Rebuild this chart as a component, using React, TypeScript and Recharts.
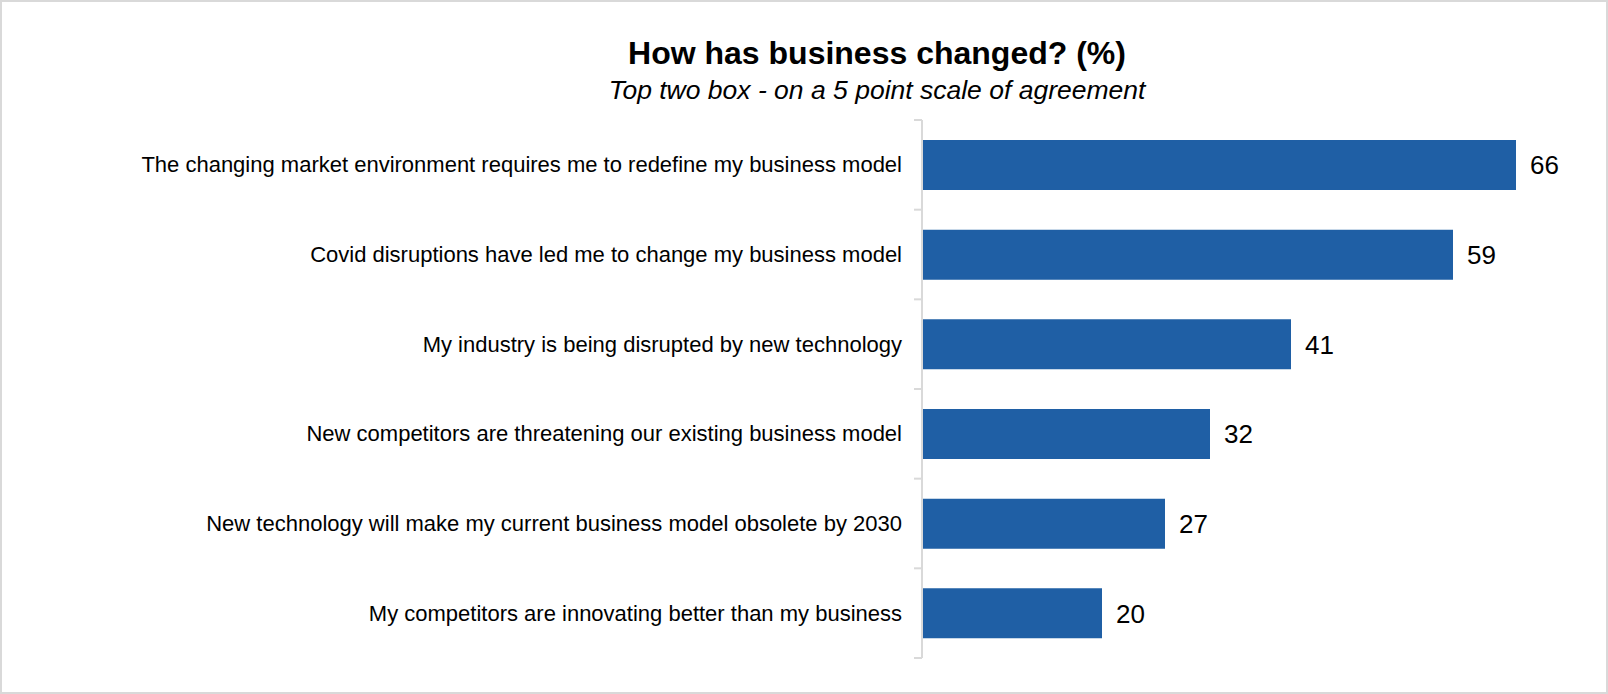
import React from "react";
import { BarChart, Bar, XAxis, YAxis, LabelList } from "recharts";

const categories = [
  "The changing market environment requires me to redefine my business model",
  "Covid disruptions have led me to change my business model",
  "My industry is being disrupted by new technology",
  "New competitors are threatening our existing business model",
  "New technology will make my current business model obsolete by 2030",
  "My competitors are innovating better than my business",
];
const values = [66, 59, 41, 32, 27, 20];

const data = categories.map((name, i) => ({ name, value: values[i] }));

const W = 1608;
const H = 694;
const TOP = 120;
const BOTTOM = 36;
const PLOT_H = H - TOP - BOTTOM;
const BAND = PLOT_H / categories.length;
const FONT = '"Liberation Sans", Arial, sans-serif';

function CategoryTick(props: any) {
  const { x, y, payload, index } = props;
  const last = index === categories.length - 1;
  return (
    <g>
      <text x={x - 20} y={y} textAnchor="end" dominantBaseline="central" fontSize={22} fill="#000" fontFamily={FONT}>
        {payload.value}
      </text>
      <line x1={x - 8} x2={x} y1={y - BAND / 2} y2={y - BAND / 2} stroke="#d9d9d9" strokeWidth={2} />
      {last && <line x1={x - 8} x2={x} y1={y + BAND / 2} y2={y + BAND / 2} stroke="#d9d9d9" strokeWidth={2} />}
    </g>
  );
}

export default function App() {
  return (
    <div style={{ position: "fixed", left: 0, top: 0, width: W, height: H, background: "#fff", fontFamily: FONT }}>
      <div style={{ position: "absolute", left: 0, width: W, top: 35, textAlign: "center", paddingLeft: 146, boxSizing: "border-box" }}>
        <div style={{ fontSize: 32, fontWeight: "bold", lineHeight: "36px" }}>How has business changed? (%)</div>
        <div style={{ fontSize: 26.5, fontStyle: "italic", lineHeight: "38px" }}>Top two box - on a 5 point scale of agreement</div>
      </div>
      <div style={{ position: "absolute", left: 0, top: 0 }}>
        <BarChart width={W} height={H} data={data} layout="vertical" margin={{ top: TOP, right: 56, bottom: BOTTOM, left: 0 }} barCategoryGap={0}>
          <XAxis type="number" domain={[0, 70]} hide />
          <YAxis
            type="category"
            dataKey="name"
            width={922}
            tick={<CategoryTick />}
            tickLine={false}
            tickSize={0}
            tickMargin={0}
            axisLine={{ stroke: "#d9d9d9", strokeWidth: 2 }}
            interval={0}
          />
          <Bar dataKey="value" fill="#1f5fa5" barSize={50} isAnimationActive={false}>
            <LabelList dataKey="value" position="right" offset={14} fontSize={26} fill="#000" fontFamily={FONT} />
          </Bar>
        </BarChart>
      </div>
      <div style={{ position: "absolute", left: 0, top: 0, width: W, height: H, border: "2px solid #d9d9d9", boxSizing: "border-box", pointerEvents: "none" }} />
    </div>
  );
}
